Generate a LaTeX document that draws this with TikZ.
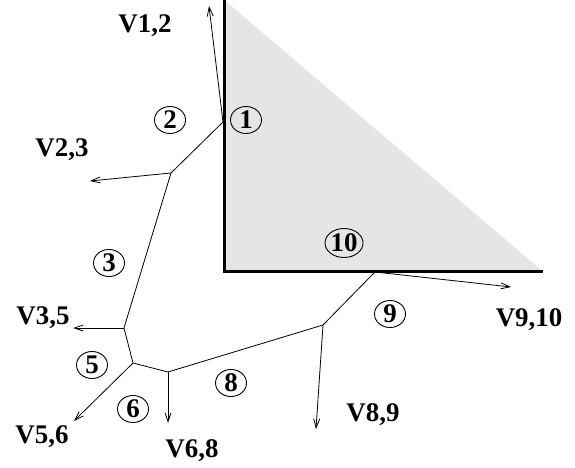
\documentclass[tikz,border=0pt]{standalone}
\usepackage{fontspec}
\setmainfont{Liberation Serif}
\usetikzlibrary{arrows.meta,shapes.geometric}
\begin{document}
\begin{tikzpicture}[x=1bp,y=-1bp,
  wall/.style={line width=3bp},
  edge/.style={line width=0.8bp},
  vel/.style={line width=0.8bp,-{Straight Barb[length=9bp,width=6bp,line width=0.8bp]}},
  lbl/.style={font=\fontsize{27}{32}\selectfont\bfseries,inner sep=0pt,anchor=base},
  num/.style={ellipse,draw,line width=0.9bp,inner sep=0pt,minimum width=31bp,minimum height=27bp,font=\fontsize{27}{30}\selectfont\bfseries},
  numw/.style={num,minimum width=36bp,minimum height=29bp}]
\useasboundingbox (0,0) rectangle (575,468);
% triangle
\coordinate (A) at (224,0);
\coordinate (B) at (224,271.5);
\coordinate (C) at (543,271.5);
\fill[black!10] (A) -- (B) -- (C) -- cycle;
\draw[wall] (A) -- (B) -- (C);
% vertices
\coordinate (P1) at (223,122);
\coordinate (P2) at (171,173);
\coordinate (P3) at (124,328);
\coordinate (P5) at (133,363);
\coordinate (P6) at (168,372);
\coordinate (P8) at (323,325);
\coordinate (P9) at (375,272);
\coordinate (T12) at (209,6);
\coordinate (T23) at (90,181);
\coordinate (T35) at (73,328);
\coordinate (T56) at (74,421);
\coordinate (T68) at (168,423);
\coordinate (T89) at (316,429);
\coordinate (T910) at (511,287);
\draw[edge] (P1) -- (P2) -- (P3) -- (P5) -- (P6) -- (P8) -- (P9);
\draw[vel] (P1) -- (T12);
\draw[vel] (P2) -- (T23);
\draw[vel] (P3) -- (T35);
\draw[vel] (P5) -- (T56);
\draw[vel] (P6) -- (T68);
\draw[vel] (P8) -- (T89);
\draw[vel] (P9) -- (T910);
% labels
\node[lbl] (L12) at (145,33) {V1,2};
\node[lbl] (L23) at (62,157) {V2,3};
\node[lbl] (L35) at (43,324) {V3,5};
\node[lbl] (L56) at (42,443) {V5,6};
\node[lbl] (L68) at (192,457) {V6,8};
\node[lbl] (L89) at (373,421) {V8,9};
\node[lbl] (L910) at (529,326) {V9,10};
% circled numbers
\node[num] (n1) at (246,120) {1};
\node[num] (n2) at (170,120) {2};
\node[num] (n3) at (109,263) {3};
\node[num] (n5) at (92,365) {5};
\node[num] (n6) at (133,409) {6};
\node[num] (n8) at (231,383) {8};
\node[num] (n9) at (390,314) {9};
\node[numw] (n10) at (344,243) {10};
\end{tikzpicture}
\end{document}
